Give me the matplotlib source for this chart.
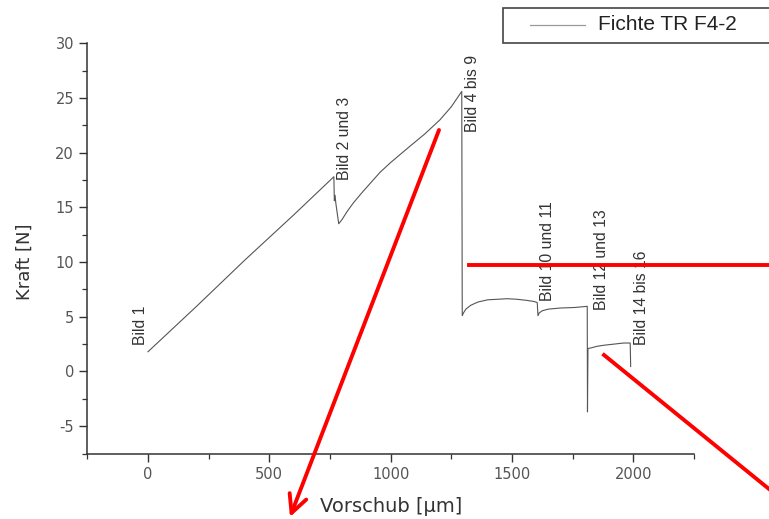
import matplotlib
matplotlib.use("Agg")
import matplotlib.pyplot as plt
from matplotlib.lines import Line2D
from matplotlib.patches import Rectangle
from matplotlib.ticker import MultipleLocator

plt.rcParams['axes.unicode_minus'] = False

# Messkurve
vorschub = [0, 200, 400, 600, 766, 768, 771, 774, 786, 800, 820, 846, 880, 920, 956,
            1000, 1080, 1140, 1203, 1250, 1293,
            1295, 1300, 1310, 1330, 1360, 1400, 1440, 1480, 1520, 1560, 1590, 1604,
            1607, 1612, 1625, 1650, 1700, 1760, 1808,
            1810, 1811, 1813, 1825, 1850, 1880, 1920, 1960, 1987, 1989]
kraft = [1.8, 5.95, 10.2, 14.3, 17.8, 15.6, 16.1, 15.4, 13.5, 13.9, 14.6, 15.4, 16.3, 17.3, 18.2,
         19.1, 20.6, 21.7, 23.0, 24.2, 25.6,
         5.1, 5.35, 5.7, 6.05, 6.35, 6.55, 6.6, 6.65, 6.6, 6.5, 6.4, 6.3,
         5.1, 5.35, 5.55, 5.7, 5.8, 5.85, 5.95,
         5.95, -3.7, 2.1, 2.15, 2.3, 2.4, 2.5, 2.6, 2.6, 0.45]

# Beschriftungen der Bilder
bild_texte = ['Bild 1', 'Bild 2 und 3', 'Bild 4 bis 9', 'Bild 10 und 11',
              'Bild 12 und 13', 'Bild 14 bis 16']
bild_x = [-30, 810, 1338, 1647, 1869, 2034]
bild_y = [2.44, 17.5, 21.9, 6.4, 5.6, 2.44]

legend_label = 'Fichte TR F4-2'

fig = plt.figure(figsize=(7.69, 5.19), dpi=100)
ax = fig.add_axes([0.1135, 0.1262, 0.789, 0.7904])

ax.plot(vorschub, kraft, color='#555555', linewidth=0.8)

for t, x, y in zip(bild_texte, bild_x, bild_y):
    ax.text(x, y, t, rotation=90, ha='center', va='bottom', fontsize=11.3,
            family='Liberation Sans', color='#333333')

ax.set_xlim(-250, 2250)
ax.set_ylim(-7.5, 30)
ax.xaxis.set_major_locator(MultipleLocator(500))
ax.xaxis.set_minor_locator(MultipleLocator(250))
ax.yaxis.set_major_locator(MultipleLocator(5))
ax.yaxis.set_minor_locator(MultipleLocator(2.5))
ax.spines['top'].set_visible(False)
ax.spines['right'].set_visible(False)
for s in ['left', 'bottom']:
    ax.spines[s].set_linewidth(1.1)
    ax.spines[s].set_color('#333333')
ax.tick_params(which='major', length=6, width=1.0, color='#333333',
               labelsize=10.5, labelcolor='#555555')
ax.tick_params(which='minor', length=3.5, width=0.9, color='#333333')

ax.set_xlabel('Vorschub [μm]', fontsize=14, color='#333333')
ax.set_ylabel('Kraft [N]', fontsize=13, color='#333333')
ax.xaxis.set_label_coords(0.5, -0.105)
ax.yaxis.set_label_coords(-0.088, 0.468)

# Legende (rechts oben, am Bildrand abgeschnitten)
fig.add_artist(Rectangle((503 / 769, 1 - 43.3 / 519), 300 / 769, 35 / 519,
                         transform=fig.transFigure, facecolor='white',
                         edgecolor='#444444', linewidth=1.2))
fig.add_artist(Line2D([530 / 769, 585 / 769], [1 - 24.5 / 519, 1 - 24.5 / 519],
                      transform=fig.transFigure, color='#999999', linewidth=0.9))
fig.text(598 / 769, 1 - 25 / 519, legend_label, fontsize=15, va='center',
         family='Liberation Sans', color='#222222')

# rote Markierungen
rot = dict(color='#ff0000', linewidth=2.8)
ax.annotate('', xy=(290, 519 - 517), xytext=(439, 519 - 130),
            xycoords='figure pixels', textcoords='figure pixels',
            arrowprops=dict(arrowstyle='->', mutation_scale=32, color='#ff0000',
                            linewidth=2.8, shrinkA=0, shrinkB=0))
fig.add_artist(Line2D([469 / 769, 1.0], [1 - 264.7 / 519, 1 - 264.7 / 519],
                      transform=fig.transFigure, **rot))
fig.add_artist(Line2D([604 / 769, 1.0], [1 - 355 / 519, 1 - 489 / 519],
                      transform=fig.transFigure, **rot))

fig.savefig('out.png', dpi=100)
